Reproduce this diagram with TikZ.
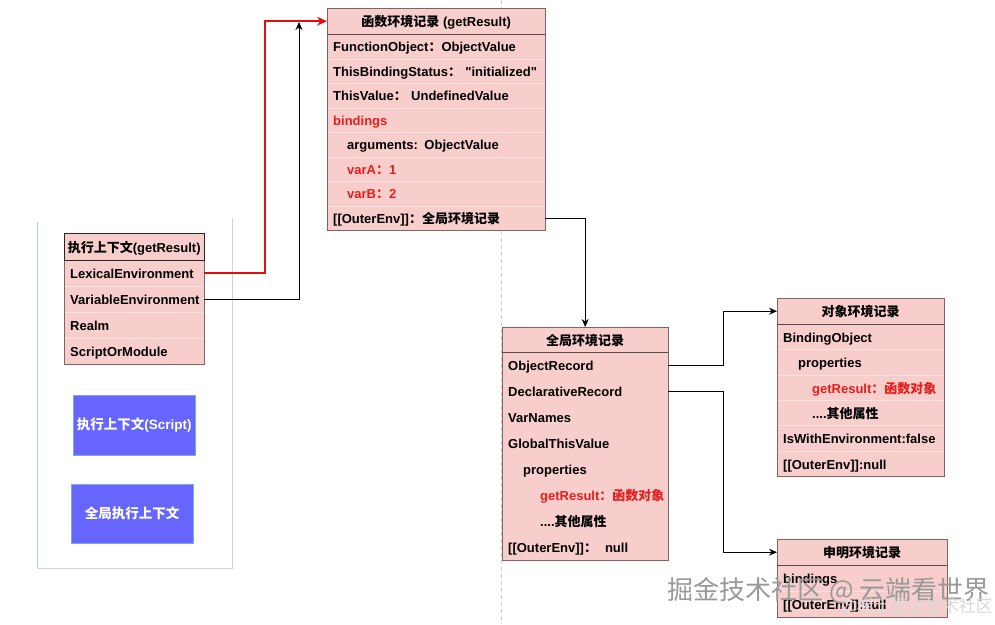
\documentclass[tikz,border=0pt]{standalone}
\usepackage{fontspec}
\setmainfont{Liberation Sans}[Ligatures=TeXOff]
\newfontfamily\cjk{Noto Sans CJK SC}
\newcommand\zh[1]{{\cjk #1}}
\usetikzlibrary{arrows.meta}
\definecolor{recfill}{HTML}{F8CECC}
\definecolor{recline}{HTML}{806464}
\definecolor{rowline}{HTML}{FBE2E1}
\definecolor{hdrline}{HTML}{5A4848}
\definecolor{redtxt}{HTML}{E61E1E}
\definecolor{redline}{HTML}{E01010}
\definecolor{bluefill}{HTML}{6666FF}
\definecolor{blueline}{HTML}{7EA6E0}
\definecolor{teal}{HTML}{A8D0D0}
\definecolor{greyline}{HTML}{D2D2D2}
\tikzset{
  base/.style={anchor=north west, inner ysep=0pt, font=\bfseries\fontsize{13}{15}\selectfont, text height=11.5pt, text depth=0.5pt},
  hdr/.style={base, inner xsep=2pt, draw=hdrline, fill=recfill, align=center},
  rowtext/.style={base, inner xsep=6pt, fill=recfill, align=left,
    execute at begin node={\hbox to 0pt\bgroup}, execute at end node={\hss\egroup}},
  row/.style={rowtext, draw=rowline},
  plainrow/.style={rowtext},
  outline/.style={draw=recline, line width=0.8pt},
  bluebox/.style={anchor=north west, inner sep=0pt, draw=blueline, fill=bluefill, text=white, font=\bfseries\fontsize{13.5}{15}\selectfont},
  conn/.style={draw=black, line width=0.9pt, -{Stealth[length=8pt,width=7pt]}},
  redconn/.style={draw=redline, line width=2pt, -{Stealth[length=10pt,width=9pt]}},
}
\begin{document}
\begin{tikzpicture}[x=1pt,y=-1pt]
\useasboundingbox (0,0) rectangle (995,624);
% dashed guide
\draw[gray!40, dash pattern=on 4pt off 3pt] (501,0) -- (501,624);
% left container
\draw[teal, line width=0.9pt] (37,222) -- (37,568);
\draw[greyline, line width=0.9pt] (37,568) -- (232,568) -- (232,218);

% execution context
\node[hdr, draw=black!85, minimum width=140pt, minimum height=27pt] (ec) at (64,233) {\zh{执行上下文}(getResult)};
\node[row, text width=128pt, minimum height=26pt] (ec-lex) at (64,260) {LexicalEnvironment};
\node[row, text width=128pt, minimum height=26pt] (ec-var) at (64,286) {VariableEnvironment};
\node[row, text width=128pt, minimum height=26pt] (ec-realm) at (64,312) {Realm};
\node[row, text width=128pt, minimum height=26pt] (ec-som) at (64,338) {ScriptOrModule};
\draw[outline] (ec.south west) rectangle (ec-som.south east);
\draw[black!85, line width=0.8pt] (ec.north west) rectangle (ec.south east);

% blue contexts
\node[bluebox, minimum width=122pt, minimum height=60pt] (ctx-script) at (73,395) {\zh{执行上下文}(Script)};
\node[bluebox, minimum width=122pt, minimum height=59pt] (ctx-global) at (71,484) {\zh{全局执行上下文}};

% function environment record
\node[hdr, minimum width=218pt, minimum height=26pt] (fe) at (327,8) {\zh{函数环境记录} (getResult)};
\node[row, text width=206pt, minimum height=24.5pt] (fe-fo) at (327,34) {FunctionObject\zh{：}ObjectValue};
\node[row, text width=206pt, minimum height=24.5pt] (fe-tbs) at (327,58.5) {ThisBindingStatus\zh{：} "initialized"};
\node[row, text width=206pt, minimum height=24.5pt] (fe-tv) at (327,83) {ThisValue\zh{：} UndefinedValue};
\node[row, text width=206pt, minimum height=24.5pt, text=redtxt] (fe-bind) at (327,107.5) {bindings};
\node[row, text width=206pt, minimum height=24.5pt] (fe-args) at (327,132) {\hspace*{14pt}arguments: ObjectValue};
\node[row, text width=206pt, minimum height=24.5pt, text=redtxt] (fe-a) at (327,156.5) {\hspace*{14pt}varA\zh{：}1};
\node[row, text width=206pt, minimum height=24.5pt, text=redtxt] (fe-b) at (327,181) {\hspace*{14pt}varB\zh{：}2};
\node[row, text width=206pt, minimum height=24.5pt] (fe-outer) at (327,205.5) {[[OuterEnv]]\zh{：全局环境记录}};
\draw[outline] (fe.north west) rectangle (fe-outer.south east);
\draw[hdrline, line width=0.8pt] (fe.south west) -- (fe.south east);

% global environment record
\node[hdr, minimum width=166pt, minimum height=25pt] (ge) at (502,327) {\zh{全局环境记录}};
\node[plainrow, text width=154pt, minimum height=26pt] (ge-obj) at (502,352) {ObjectRecord};
\node[plainrow, text width=154pt, minimum height=26pt] (ge-decl) at (502,378) {DeclarativeRecord};
\node[plainrow, text width=154pt, minimum height=26pt] (ge-vn) at (502,404) {VarNames};
\node[plainrow, text width=154pt, minimum height=26pt] (ge-gtv) at (502,430) {GlobalThisValue};
\node[plainrow, text width=154pt, minimum height=26pt] (ge-prop) at (502,456) {\hspace*{15pt}properties};
\node[plainrow, text width=154pt, minimum height=26pt, text=redtxt] (ge-gr) at (502,482) {\hspace*{32pt}getResult\zh{：函数对象}};
\node[plainrow, text width=154pt, minimum height=26pt] (ge-other) at (502,508) {\hspace*{32pt}....\zh{其他属性}};
\node[plainrow, text width=154pt, minimum height=26pt] (ge-outer) at (502,534) {[[OuterEnv]]\zh{：}\hspace*{8pt}null};
\draw[outline] (ge.north west) rectangle (ge-outer.south east);
\draw[hdrline, line width=0.8pt] (ge.south west) -- (ge.south east);

% object environment record
\node[hdr, minimum width=167pt, minimum height=26pt] (oe) at (777,298) {\zh{对象环境记录}};
\node[row, text width=155pt, minimum height=25.33pt] (oe-bo) at (777,324) {BindingObject};
\node[row, text width=155pt, minimum height=25.33pt] (oe-prop) at (777,349.33) {\hspace*{15pt}properties};
\node[row, text width=155pt, minimum height=25.33pt, text=redtxt] (oe-gr) at (777,374.67) {\hspace*{29pt}getResult\zh{：函数对象}};
\node[row, text width=155pt, minimum height=25.33pt] (oe-other) at (777,400) {\hspace*{29pt}....\zh{其他属性}};
\node[row, text width=155pt, minimum height=25.33pt] (oe-iwe) at (777,425.33) {IsWithEnvironment:false};
\node[row, text width=155pt, minimum height=25.33pt] (oe-outer) at (777,450.67) {[[OuterEnv]]:null};
\draw[outline] (oe.north west) rectangle (oe-outer.south east);
\draw[hdrline, line width=0.8pt] (oe.south west) -- (oe.south east);

% declarative environment record
\node[hdr, minimum width=170pt, minimum height=26pt] (de) at (777,539) {\zh{申明环境记录}};
\node[row, text width=158pt, minimum height=26pt] (de-bind) at (777,565) {bindings};
\node[row, text width=158pt, minimum height=26pt] (de-outer) at (777,591) {[[OuterEnv]]:null};
\draw[outline] (de.north west) rectangle (de-outer.south east);
\draw[hdrline, line width=0.8pt] (de.south west) -- (de.south east);

% connectors
\coordinate (vtarget) at (299,22);
\draw[redconn] (ec-lex.east) -- ++(61,0) |- (fe.west);
\draw[conn] (ec-var.east) -| (vtarget);
\draw[conn] (fe-outer.east) -| (ge.north);
\draw[conn] (ge-obj.east) -- ++(55,0) |- (oe.west);
\draw[conn] (ge-decl.east) -- ++(55,0) |- (de.west);

% watermark
\node[anchor=west, inner sep=0pt, font=\cjk\fontsize{26}{28}\selectfont, text=gray!80] (wm) at (667,591) {掘金技术社区 @ 云端看世界};
\node[anchor=east, inner sep=0pt, font=\cjk\fontsize{17}{19}\selectfont, text=gray!30] (wm2) at (993,607) {@稀土掘金技术社区};
\end{tikzpicture}
\end{document}
